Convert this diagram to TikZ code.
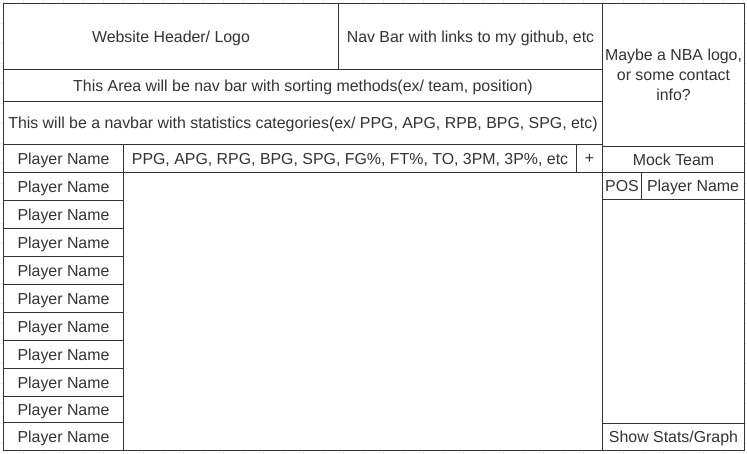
\documentclass[tikz,border=0pt]{standalone}
\usepackage{fontspec}
\setmainfont{Liberation Sans}
\begin{document}
\begin{tikzpicture}[x=1pt,y=-1pt,
  every node/.style={font=\fontsize{15.9}{20}\selectfont},
  cell/.style={draw=linegray, fill=white, line width=1pt, inner sep=0pt,
               text=textgray, align=center, text depth=0pt}]
\definecolor{linegray}{RGB}{51,51,51}
\definecolor{textgray}{RGB}{51,51,51}
\definecolor{gridgray}{RGB}{236,236,236}
% canvas and background grid
\path[use as bounding box] (0,0) rectangle (747,454);
\fill[white] (0,0) rectangle (747,454);
\foreach \g in {3,23,...,743} \draw[gridgray, line width=0.6pt] (\g,0) -- (\g,454);
\foreach \g in {3,23,...,453} \draw[gridgray, line width=0.6pt] (0,\g) -- (747,\g);

% top bars
\node[cell, minimum width=335pt, minimum height=66pt] (hdr) at (171,36.5) {Website Header/ Logo};
\node[cell, minimum width=264pt, minimum height=66pt] (links) at (470.5,36.5) {Nav Bar with links to my github, etc};
\node[cell, minimum width=599pt, minimum height=32pt] (sortbar) at (303,85.5) {This Area will be nav bar with sorting methods(ex/ team, position)};
\node[cell, minimum width=599pt, minimum height=43pt] (statbar) at (303,123) {This will be a navbar with statistics categories(ex/ PPG, APG, RPB, BPG, SPG, etc)};

% table header
\node[cell, minimum width=120pt, minimum height=28pt] (pnhead) at (63.5,158.5) {Player Name};
\node[cell, minimum width=453pt, minimum height=28pt] (cols) at (350,158.5) {PPG, APG, RPG, BPG, SPG, FG\%, FT\%, TO, 3PM, 3P\%, etc};
\node[cell, minimum width=26pt, minimum height=28pt] (plus) at (589.5,158.5) {+};

% table body
\node[cell, minimum width=479pt, minimum height=278pt] (content) at (363,311.5) {};
\foreach \t/\b [count=\i] in {172.5/200.5, 200.5/228.5, 228.5/256.5, 256.5/284.5, 284.5/312.5,
    312.5/340.5, 340.5/368.5, 368.5/396.5, 396.5/422.5, 422.5/450.5}
  \node[cell, minimum width=120pt, minimum height={\b-\t}] (p\i) at (63.5,{(\t+\b)/2}) {Player Name};

% side column
\node[cell, minimum width=142pt, minimum height=143pt] (logo) at (673.5,75) {Maybe a NBA logo,\\or some contact\\info?};
\node[cell, minimum width=142pt, minimum height=26pt] (mock) at (673.5,159.5) {Mock Team};
\node[cell, minimum width=39pt, minimum height=27pt] (pos) at (622,186) {POS};
\node[cell, minimum width=103pt, minimum height=27pt] (posname) at (693,186) {Player Name};
\node[cell, minimum width=142pt, minimum height=224pt] (team) at (673.5,311.5) {};
\node[cell, minimum width=142pt, minimum height=27pt] (showstats) at (673.5,437) {Show Stats/Graph};
\end{tikzpicture}
\end{document}
